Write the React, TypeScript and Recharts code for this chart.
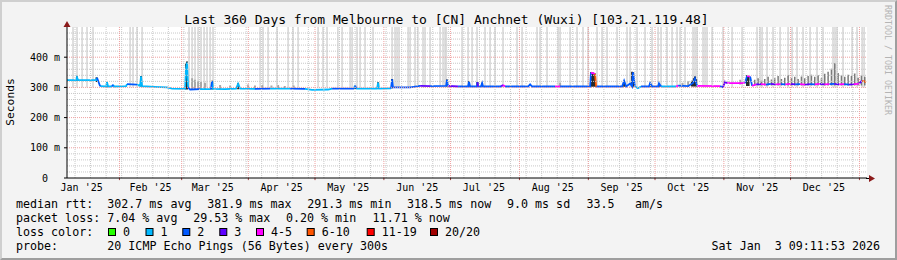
import React from 'react'
import { ComposedChart, Line, XAxis, YAxis, ReferenceLine, CartesianGrid } from 'recharts'

// x values are days since the start of the 360 day window (Jan 8 '25 09:11)
const monthLabels = ["Jan '25", "Feb '25", "Mar '25", "Apr '25", "May '25", "Jun '25", "Jul '25", "Aug '25", "Sep '25", "Oct '25", "Nov '25", "Dec '25"]
const monthLabelDays = [6.6, 37.6, 65.6, 96.6, 126.6, 157.6, 187.6, 218.6, 249.6, 279.6, 310.6, 340.6]
const monthStartDays = [23.6, 51.6, 81.6, 111.6, 142.6, 172.6, 203.6, 234.6, 264.6, 295.6, 325.6, 356.6]
const weekStartDays = [3.6, 10.6, 17.6, 24.6, 31.6, 38.6, 45.6, 52.6, 59.6, 66.6, 73.6, 80.6, 87.6, 94.6, 101.6, 108.6, 115.6, 122.6, 129.6, 136.6, 143.6, 150.6, 157.6, 164.6, 171.6, 178.6, 185.6, 192.6, 199.6, 206.6, 213.6, 220.6, 227.6, 234.6, 241.6, 248.6, 255.6, 262.6, 269.6, 276.6, 283.6, 290.6, 297.6, 304.6, 311.6, 318.6, 325.6, 332.6, 339.6, 346.6, 353.6]
const minorValues = [20, 40, 60, 80, 120, 140, 160, 180, 220, 240, 260, 280, 320, 340, 360, 380, 420, 440, 460, 480]
const majorValues = [100, 200, 300, 400]
const yTicks = [0, 100, 200, 300, 400]

// median rtt (ms) and loss class of the segment that starts at each point
const medDays = [0, 4.1, 4.5, 5.0, 13.1, 13.5, 14.9, 17.6, 18.0, 18.5, 20.3, 20.7, 21.2, 26.6, 27.0, 31.5, 32.9, 33.3, 33.8, 39.6, 45.0, 47.3, 53.1, 53.6, 54.0, 54.5, 55.4, 59.9, 64.8, 65.3, 65.7, 71.1, 76.1, 77.0, 77.9, 84.6, 91.4, 100.4, 107.1, 110.3, 117.5, 119.3, 129.2, 129.6, 130.1, 139.5, 140.0, 140.4, 145.8, 146.3, 146.7, 154.4, 158.9, 163.4, 170.6, 171.0, 171.5, 176.0, 180.5, 180.9, 181.4, 184.5, 184.7, 185.0, 186.3, 186.8, 187.2, 195.3, 196.2, 197.1, 207.5, 208.4, 209.3, 219.6, 221.9, 235.4, 235.8, 237.6, 238.1, 249.8, 250.7, 251.6, 253.4, 254.3, 254.7, 255.6, 256.9, 258.3, 261.9, 262.4, 263.3, 266.0, 266.4, 267.3, 274.1, 275.0, 279.5, 281.7, 282.6, 283.5, 293.9, 295.2, 296.1, 297.0, 305.1, 306.0, 307.4, 308.3,
  310.1, 312.3, 314.5, 316.7, 318.9, 321.1, 323.3, 325.5, 327.7, 329.9, 332.1, 334.3, 336.5, 338.7, 340.9, 343.1, 345.3, 347.5, 349.7, 351.9, 354.1, 356.3, 357.8, 359.6]
const medVals = [324, 324, 333, 324, 324, 332, 304, 303, 317, 303, 303, 309, 303, 304, 311, 309, 305, 337, 304, 302, 300, 296, 295, 365, 382, 300, 293, 294, 294, 321, 295, 294, 296, 312, 296, 295, 296, 296, 295, 292, 293, 296, 296, 308, 296, 296, 316, 296, 297, 327, 300, 300, 305, 304, 305, 325, 305, 303, 303, 319, 303, 303, 317, 303, 303, 314, 303, 303, 308, 303, 303, 310, 303, 303, 303, 303, 349, 345, 303, 303, 322, 303, 313, 303, 350, 303, 297, 303, 303, 314, 303, 303, 313, 303, 303, 306, 304, 315, 330, 305, 304, 300, 319, 314, 314, 338, 336, 305,
  310, 311, 309, 312, 310, 311, 310, 312, 310, 311, 309, 311, 310, 312, 310, 311, 312, 310, 311, 309, 311, 312, 322, 318]
const medLoss = [1, 1, 1, 1, 1, 2, 1, 1, 1, 1, 2, 1, 1, 1, 2, 1, 1, 1, 1, 1, 1, 1, 1, 1, 1, 2, 2, 1, 2, 1, 1, 1, 1, 1, 1, 2, 1, 2, 1, 1, 1, 2, 1, 2, 1, 1, 1, 1, 2, 2, 2, 2, 3, 2, 2, 2, 3, 2, 2, 2, 2, 2, 3, 2, 2, 2, 2, 3, 4, 2, 2, 2, 2, 4, 2, 2, 4, 5, 2, 2, 2, 2, 2, 2, 2, 1, 1, 2, 2, 2, 2, 2, 2, 1, 4, 2, 2, 2, 2, 4, 2, 3, 3, 4, 2, 4, 2, 4,
  3, 4, 2, 3, 4, 2, 4, 3, 2, 4, 3, 2, 4, 3, 4, 2, 3, 4, 2, 3, 4, 3, 5, 4]

const lossLabels = ['0', '1', '2', '3', '4-5', '6-10', '11-19', '20/20']
const lossColors = ['#26ff00', '#00b8ff', '#0059ff', '#5e00ff', '#ff00ff', '#ff5500', '#ff0000', '#a00000']

// light grey smoke columns that run off the top of the graph
const colDays = [2.7, 4.5, 6.8, 9.0, 11.7, 28.4, 29.7, 31.5, 33.8, 54.9, 56.3, 57.6, 59.0, 60.3, 61.7, 63.0, 64.4, 65.7, 86.9, 88.2, 90.5, 94.5, 99.5, 101.7, 104.0, 113.0, 115.2, 117.0, 121.9, 123.8, 127.4, 128.3, 130.5, 131.9, 134.1, 137.7, 146.3, 147.6, 148.5, 149.4, 153.5, 154.4, 156.6, 157.9, 160.2, 161.1, 163.4, 167.9, 169.2, 170.1, 170.6, 177.8, 180.5, 182.3, 184.5, 188.1, 190.4, 192.6, 196.2, 202.5, 204.8, 211.5, 212.9, 216.0, 221.0, 221.9, 226.4, 229.5, 232.2, 234.5, 238.5, 240.8, 243.0, 247.5, 252.0, 253.4, 256.5, 260.1, 263.3, 266.0, 267.3, 270.0, 272.3, 274.5, 275.9, 278.1, 281.7, 282.6, 283.5, 286.2, 287.1, 288.0, 290.3, 295.2, 299.3, 303.8, 310.5, 311.9, 312.8, 315.0, 317.7, 320.9, 324.5, 326.3, 328.5, 331.2, 334.4, 337.5, 340.2, 344.7, 345.6, 346.5, 349.2, 353.3, 355.5, 357.8, 358.7]

// smoke around the median (shade 0 = black, 1 = mid grey, 2 = dark grey)
const plumeDays = [4.5, 13.3, 18.0, 33.3, 53.6, 54.0, 65.3, 77.0, 129.6, 140.0, 146.3, 171.0, 180.9, 184.7, 186.8, 235.8, 236.7, 237.6, 250.7, 254.3, 254.8, 262.4, 266.4, 281.2, 282.1, 282.6, 283.1, 306.0, 306.7,
  56.3, 57.6, 59.0, 60.3, 62.1, 68.9, 73.4, 81.5, 84.6, 87.8, 92.0, 95.0, 98.0, 102.0, 221.9, 277.0, 279.5, 302.9,
  309.5, 311.0, 312.5, 314.0, 315.5, 317.0, 318.5, 320.0, 321.5, 323.0, 324.5, 326.0, 327.5, 329.0, 330.5, 332.0, 333.5, 335.0, 336.5, 338.0, 339.5, 341.0, 342.5, 344.0, 345.5, 347.0, 348.5, 350.0, 351.5, 353.0, 354.5, 356.0, 357.5, 359.0]
const plumeLo = [322, 318, 300, 303, 293, 293, 293, 294, 295, 295, 297, 303, 302, 302, 302, 302, 302, 302, 302, 302, 302, 302, 302, 303, 303, 303, 303, 305, 305,
  294, 294, 294, 294, 294, 294, 294, 294, 294, 294, 295, 295, 295, 295, 302, 302, 302, 310,
  306, 306, 306, 306, 306, 306, 306, 306, 306, 306, 306, 306, 306, 306, 306, 306, 306, 306, 306, 306, 306, 306, 306, 306, 306, 306, 306, 306, 306, 306, 306, 306, 306, 306]
const plumeHi = [336, 334, 318, 338, 380, 386, 322, 314, 308, 317, 328, 326, 320, 318, 315, 350, 349, 346, 322, 352, 350, 314, 313, 322, 330, 336, 328, 340, 338,
  330, 325, 320, 318, 315, 308, 306, 310, 306, 308, 306, 308, 305, 306, 315, 315, 320, 325,
  325, 330, 322, 328, 335, 326, 330, 338, 328, 332, 340, 330, 335, 328, 336, 330, 338, 342, 335, 340, 330, 345, 352, 362, 380, 348, 340, 335, 342, 338, 346, 332, 340, 335]
const plumeShade = [0, 0, 0, 0, 0, 0, 0, 0, 0, 0, 0, 0, 0, 0, 0, 0, 0, 0, 0, 0, 0, 0, 0, 0, 0, 0, 0, 0, 0,
  1, 1, 1, 1, 1, 1, 1, 1, 1, 1, 1, 1, 1, 1, 1, 1, 1, 1,
  2, 2, 2, 2, 2, 2, 2, 2, 2, 2, 2, 2, 2, 2, 2, 2, 2, 2, 2, 2, 2, 2, 2, 2, 2, 2, 2, 2, 2, 2, 2, 2, 2, 2]
const plumeColors = ['#2a2a2a', '#a8a8a8', '#7a7a7a']
const plumeWidths = [2, 2, 1.5]

const NB = '\u00a0'
const medianRow = [
  { x: 16, t: `median rtt:${NB}${NB}302.7 ms avg` },
  { x: 207.3, t: '381.9 ms max' },
  { x: 307.2, t: '291.3 ms min' },
  { x: 407, t: '318.5 ms now' },
  { x: 507, t: '9.0 ms sd' },
  { x: 586.5, t: '33.5' },
  { x: 635, t: 'am/s' },
]
const lossRow = [
  { x: 16, t: 'packet loss: 7.04 % avg' },
  { x: 193.2, t: '29.53 % max' },
  { x: 286, t: '0.20 % min' },
  { x: 372.6, t: '11.71 % now' },
]
const lossBoxX = [108, 145.5, 182.3, 219.3, 256, 306.7, 366.7, 430]
const stamp = `Sat Jan${NB}${NB}3 09:11:53 2026`

const MONO = '"DejaVu Sans Mono", monospace'

// one polyline per loss colour, broken wherever the segment has another colour
const segData = (c: number) => {
  const out: { d: number; v: number | null }[] = []
  for (let i = 0; i < medDays.length - 1; i++) {
    if (medLoss[i] === c) {
      if (!(i > 0 && medLoss[i - 1] === c)) out.push({ d: medDays[i], v: medVals[i] })
      out.push({ d: medDays[i + 1], v: medVals[i + 1] })
    } else if (out.length && out[out.length - 1].v !== null) {
      out.push({ d: medDays[i], v: null })
    }
  }
  return out
}

const medianSeries = lossColors
  .map((color, c) => ({ color, data: segData(c) }))
  .filter((s) => s.data.length > 0)

const columnData = colDays.flatMap((d) => [
  { d, v: 300 },
  { d, v: 500 },
  { d, v: null },
])

const plumeData = (shade: number) =>
  plumeDays.flatMap((d, i) =>
    plumeShade[i] === shade
      ? [
          { d, v: plumeLo[i] },
          { d, v: plumeHi[i] },
          { d, v: null },
        ]
      : []
  )

const XTick = ({ x, y, payload }: any) => (
  <text x={x} y={y} dy={13} textAnchor="middle" fontFamily={MONO} fontSize={10} fill="#000">
    {monthLabels[monthLabelDays.indexOf(payload.value)]}
  </text>
)

const YTick = ({ x, y, payload }: any) => (
  <text x={payload.value === 0 ? x - 12 : x} y={y} dy={3.6} textAnchor="end" fontFamily={MONO} fontSize={10} fill="#000">
    {payload.value === 0 ? '0' : `${payload.value} m`}
  </text>
)

export default function App() {
  return (
    <div
      style={{
        position: 'relative',
        width: 897,
        height: 260,
        boxSizing: 'border-box',
        background: '#f3f3f3',
        borderTop: '2px solid #cfcfcf',
        borderLeft: '2px solid #cfcfcf',
        borderRight: '2px solid #9e9e9e',
        borderBottom: '2px solid #9e9e9e',
        overflow: 'hidden',
      }}
    >
      <style>{`body{margin:0}`}</style>
      <div style={{ position: 'absolute', left: -2, top: -2 }}>
        <ComposedChart width={897} height={260} margin={{ top: 27, right: 30, bottom: 62, left: 17 }}>
          <CartesianGrid fill="#ffffff" stroke="none" horizontal={false} vertical={false} />
          <XAxis
            dataKey="d"
            type="number"
            domain={[0, 360]}
            allowDataOverflow
            ticks={monthLabelDays}
            tick={<XTick />}
            tickLine={false}
            tickSize={0}
            tickMargin={0}
            height={20}
            axisLine={{ stroke: '#000' }}
            interval={0}
          />
          <YAxis
            type="number"
            domain={[0, 500]}
            allowDataOverflow
            ticks={yTicks}
            tick={<YTick />}
            tickSize={3}
            tickMargin={4}
            tickLine={{ stroke: '#000' }}
            axisLine={{ stroke: '#000' }}
            width={50}
            interval={0}
          />
          <Line data={columnData} dataKey="v" stroke="#d8d8d8" strokeWidth={1.6} dot={false} isAnimationActive={false} connectNulls={false} />
          {[1, 2, 0].map((s) => (
            <Line key={'p' + s} data={plumeData(s)} dataKey="v" stroke={plumeColors[s]} strokeWidth={plumeWidths[s]} dot={false} isAnimationActive={false} connectNulls={false} />
          ))}
          {medianSeries.map((s) => (
            <Line
              key={s.color}
              data={s.data}
              dataKey="v"
              stroke={s.color}
              strokeWidth={1.8}
              dot={false}
              isAnimationActive={false}
              connectNulls={false}
            />
          ))}
          {minorValues.map((v) => (
            <ReferenceLine key={'hm' + v} y={v} stroke="#c8c8c8" strokeDasharray="1 1" />
          ))}
          {weekStartDays.map((d) => (
            <ReferenceLine key={'vm' + d} x={d} stroke="#c8c8c8" strokeDasharray="1 1" />
          ))}
          {majorValues.map((v) => (
            <ReferenceLine key={'hM' + v} y={v} stroke="#f0a0a0" strokeDasharray="1 1" />
          ))}
          {monthStartDays.map((d) => (
            <ReferenceLine key={'vM' + d} x={d} stroke="#f0a0a0" strokeDasharray="1 1" />
          ))}
          {monthStartDays.map((d) => (
            <ReferenceLine
              key={'tk' + d}
              segment={[{ x: d, y: 0 }, { x: d, y: -7 }]}
              ifOverflow="visible"
              stroke="#a04040"
            />
          ))}
        </ComposedChart>
      </div>
      <svg width={897} height={260} style={{ position: 'absolute', left: -2, top: -2, pointerEvents: 'none' }}>
        <line x1={866} y1={178.5} x2={870} y2={178.5} stroke="#000" />
        <polygon points="869,175 875,178.5 869,182" fill="#8b1a1a" />
        <polygon points="63.5,27 67,21 70.5,27" fill="#8b1a1a" />
        <text x={446.5} y={24} textAnchor="middle" fontFamily={MONO} fontSize={13} fill="#000">
          Last 360 Days from Melbourne to [CN] Anchnet (Wuxi) [103.21.119.48]
        </text>
        <text x={14} y={102} transform="rotate(-90 14 102)" textAnchor="middle" fontFamily={MONO} fontSize={11.3} fill="#000">
          Seconds
        </text>
        <text x={885} y={60} transform="rotate(90 885 60)" textAnchor="middle" fontFamily={MONO} fontSize={8.3} fill="#b4b4b4">
          RRDTOOL / TOBI OETIKER
        </text>
        <g fontFamily={MONO} fontSize={11.67} fill="#000">
          {medianRow.map((it) => (
            <text key={it.t} x={it.x} y={208}>{it.t}</text>
          ))}
          {lossRow.map((it) => (
            <text key={it.t} x={it.x} y={222}>{it.t}</text>
          ))}
          <text x={16} y={236}>loss color:</text>
          {lossLabels.map((l, i) => (
            <g key={l}>
              <rect x={lossBoxX[i] + 0.5} y={228.5} width={7} height={7} fill={lossColors[i]} stroke="#000" />
              <text x={lossBoxX[i] + 15} y={236}>{l}</text>
            </g>
          ))}
          <text x={16} y={250}>probe:</text>
          <text x={107.3} y={250}>20 ICMP Echo Pings (56 Bytes) every 300s</text>
          <text x={880} y={250} textAnchor="end">{stamp}</text>
        </g>
      </svg>
    </div>
  )
}
